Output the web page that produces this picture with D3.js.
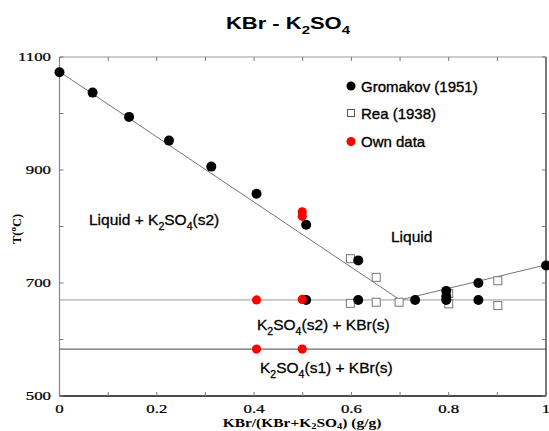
<!DOCTYPE html>
<html>
<head>
<meta charset="utf-8">
<script src="https://cdn.jsdelivr.net/npm/d3@7/dist/d3.min.js"></script>
<style>
  html, body { margin: 0; padding: 0; background: #fff; }
  svg text { fill: #000; }
</style>
</head>
<body>
<svg id="chart" width="549" height="431"></svg>
<script>
// KBr - K2SO4 phase diagram: measured points and drawn phase boundaries

// Gromakov (1951), filled black circles
const gromakovX = [0, 0.068, 0.143, 0.225, 0.312, 0.405, 0.507, 0.507, 0.614, 0.614, 0.731, 0.795, 0.795, 0.795, 0.861, 0.861, 1.0];
const gromakovT = [1073, 1037, 994, 952, 906, 858, 803, 670, 740, 670, 670, 686, 676, 670, 700, 670, 731];

// Rea (1938), open squares
const reaX = [0.598, 0.651, 0.598, 0.651, 0.698, 0.8, 0.8, 0.901, 0.901];
const reaT = [743, 710, 664, 666, 666, 681, 663, 704, 660];

// Own data, red circles
const ownX = [0.499, 0.499, 0.405, 0.499, 0.405, 0.499];
const ownT = [826, 818, 670, 671, 583, 583];

// Liquidus branches (K2SO4 side, KBr side) meeting at the eutectic
const liquidusLeftX = [0, 0.70];
const liquidusLeftT = [1074, 670];
const liquidusRightX = [0.70, 1.0];
const liquidusRightT = [670, 732];

// Eutectic and K2SO4 polymorphic transition isotherms
const eutecticT = 670;
const transitionT = 583;

// Axis ticks
const xTicks = [0, 0.2, 0.4, 0.6, 0.8, 1];
const xMinorTicks = [0, 0.1, 0.2, 0.3, 0.4, 0.5, 0.6, 0.7, 0.8, 0.9, 1];
const yTicks = [500, 700, 900, 1100];
const yMinorTicks = [500, 600, 700, 800, 900, 1000, 1100];

const svg = d3.select("#chart");
const plotL = 59.5, plotR = 546, plotT = 57, plotB = 396;

const x = d3.scaleLinear().domain([0, 1]).range([plotL, plotR]);
const y = d3.scaleLinear().domain([500, 1100]).range([plotB, plotT]);

const sans = "'Liberation Sans', Arial, sans-serif";
const serif = "'Liberation Serif', 'Times New Roman', serif";

// Frame
svg.append("line").attr("x1", plotL).attr("x2", plotL).attr("y1", plotT).attr("y2", plotB)
  .attr("stroke", "#888").attr("stroke-width", 1.2);
svg.append("line").attr("x1", plotL).attr("x2", plotR).attr("y1", plotT).attr("y2", plotT)
  .attr("stroke", "#999").attr("stroke-width", 1);
svg.append("line").attr("x1", plotR).attr("x2", plotR).attr("y1", plotT).attr("y2", plotB)
  .attr("stroke", "#222").attr("stroke-width", 1.2);
svg.append("line").attr("x1", plotL).attr("x2", plotR).attr("y1", plotB).attr("y2", plotB)
  .attr("stroke", "#111").attr("stroke-width", 1.5);

// Inward ticks on all four sides
const tickLen = 4;
const tickG = svg.append("g").attr("stroke", "#777").attr("stroke-width", 1);
xMinorTicks.forEach(v => {
  tickG.append("line").attr("x1", x(v)).attr("x2", x(v)).attr("y1", plotB).attr("y2", plotB - tickLen);
  tickG.append("line").attr("x1", x(v)).attr("x2", x(v)).attr("y1", plotT).attr("y2", plotT + tickLen);
});
yMinorTicks.forEach(v => {
  tickG.append("line").attr("x1", plotL).attr("x2", plotL + tickLen).attr("y1", y(v)).attr("y2", y(v));
  tickG.append("line").attr("x1", plotR).attr("x2", plotR - tickLen).attr("y1", y(v)).attr("y2", y(v));
});

// Tick labels: wide, short serif digits
svg.append("g").selectAll("text").data(xTicks).join("text")
  .attr("transform", d => `translate(${x(d)},413) scale(1.05,0.8)`)
  .attr("text-anchor", "middle")
  .attr("font-family", serif).attr("font-size", 16)
  .attr("stroke", "#000").attr("stroke-width", 0.3)
  .text(d => d3.format("~g")(d));
svg.append("g").selectAll("text").data(yTicks).join("text")
  .attr("transform", d => `translate(51,${y(d) + 4.2}) scale(1.05,0.8)`)
  .attr("text-anchor", "end")
  .attr("font-family", serif).attr("font-size", 16)
  .attr("stroke", "#000").attr("stroke-width", 0.3)
  .text(d => d);

// Isotherms
svg.append("line").attr("x1", x(0)).attr("x2", x(1))
  .attr("y1", y(eutecticT)).attr("y2", y(eutecticT))
  .attr("stroke", "#999").attr("stroke-width", 1);
svg.append("line").attr("x1", x(0)).attr("x2", x(1))
  .attr("y1", y(transitionT)).attr("y2", y(transitionT))
  .attr("stroke", "#444").attr("stroke-width", 1);

// Liquidus branches
const line = d3.line().x(d => x(d[0])).y(d => y(d[1]));
svg.append("path").datum(liquidusLeftX.map((v, i) => [v, liquidusLeftT[i]]))
  .attr("d", line).attr("fill", "none").attr("stroke", "#666").attr("stroke-width", 0.9);
svg.append("path").datum(liquidusRightX.map((v, i) => [v, liquidusRightT[i]]))
  .attr("d", line).attr("fill", "none").attr("stroke", "#666").attr("stroke-width", 0.9);

// Rea squares
const sq = 8;
svg.append("g").selectAll("rect").data(reaX.map((v, i) => [v, reaT[i]])).join("rect")
  .attr("x", d => x(d[0]) - sq / 2).attr("y", d => y(d[1]) - sq / 2)
  .attr("width", sq).attr("height", sq)
  .attr("fill", "#fff").attr("stroke", "#777").attr("stroke-width", 1);

// Gromakov circles
svg.append("g").selectAll("circle").data(gromakovX.map((v, i) => [v, gromakovT[i]])).join("circle")
  .attr("cx", d => x(d[0])).attr("cy", d => y(d[1])).attr("r", 5)
  .attr("fill", "#000");

// Own data circles
svg.append("g").selectAll("circle").data(ownX.map((v, i) => [v, ownT[i]])).join("circle")
  .attr("cx", d => x(d[0])).attr("cy", d => y(d[1])).attr("r", 4.6)
  .attr("fill", "#f00");

// Legend
const legend = svg.append("g").attr("font-family", sans).attr("font-size", 15)
  .attr("stroke", "#000").attr("stroke-width", 0.35);
legend.append("circle").attr("cx", 351).attr("cy", 86).attr("r", 4.5).attr("fill", "#000").attr("stroke", "none");
legend.append("text").attr("x", 361).attr("y", 91.5).text("Gromakov (1951)");
legend.append("rect").attr("x", 347.5).attr("y", 109.5).attr("width", 7).attr("height", 7)
  .attr("fill", "#fff").attr("stroke", "#555").attr("stroke-width", 1);
legend.append("text").attr("x", 361).attr("y", 119).text("Rea (1938)");
legend.append("circle").attr("cx", 351).attr("cy", 141.5).attr("r", 4.5).attr("fill", "#f00").attr("stroke", "none");
legend.append("text").attr("x", 361).attr("y", 147).text("Own data");

// Text with K2SO4 subscripts
function chemText(g, xPos, yPos, parts, opts) {
  const t = g.append("text")
    .attr("font-family", opts.family).attr("font-size", opts.size)
    .attr("font-weight", opts.weight || "normal")
    .attr("text-anchor", opts.anchor || "start")
    .attr("stroke", "#000").attr("stroke-width", opts.stroke || 0);
  if (opts.scale) {
    t.attr("transform", `translate(${xPos},${yPos}) scale(${opts.scale[0]},${opts.scale[1]})`);
  } else {
    t.attr("x", xPos).attr("y", yPos);
  }
  const drop = opts.drop !== undefined ? opts.drop : opts.size * 0.3;
  let shift = 0;
  parts.forEach(p => {
    const sub = p[1];
    const dy = sub ? drop - shift : -shift;
    shift = sub ? drop : 0;
    t.append("tspan").attr("dy", dy)
      .attr("font-size", sub ? opts.size * 0.68 : opts.size)
      .text(p[0]);
  });
  return t;
}

// Title
chemText(svg, 288, 29, [["KBr - K", 0], ["2", 1], ["SO", 0], ["4", 1]],
  { family: sans, size: 20, weight: "bold", anchor: "middle", scale: [1.1, 0.8] });

// Phase-field labels
const lbl = { family: sans, size: 15.5, stroke: 0.3 };
chemText(svg, 89, 225, [["Liquid + K", 0], ["2", 1], ["SO", 0], ["4", 1], ["(s2)", 0]], lbl);
chemText(svg, 391, 242, [["Liquid", 0]], lbl);
chemText(svg, 257, 330, [["K", 0], ["2", 1], ["SO", 0], ["4", 1], ["(s2) + KBr(s)", 0]], lbl);
chemText(svg, 260, 373, [["K", 0], ["2", 1], ["SO", 0], ["4", 1], ["(s1) + KBr(s)", 0]], lbl);

// Axis titles
chemText(svg, 302, 427, [["KBr/(KBr+K", 0], ["2", 1], ["SO", 0], ["4", 1], [") (g/g)", 0]],
  { family: serif, size: 15, weight: "bold", anchor: "middle", scale: [1.03, 0.8], drop: 2.5 });

const yl = svg.append("text").attr("transform", "translate(21,229) rotate(-90)")
  .attr("text-anchor", "middle").attr("font-family", serif)
  .attr("font-size", 12.5).attr("font-weight", "bold");
yl.append("tspan").text("T(");
yl.append("tspan").attr("dy", -5).attr("font-size", 9).text("o");
yl.append("tspan").attr("dy", 5).text("C)");
</script>
</body>
</html>
